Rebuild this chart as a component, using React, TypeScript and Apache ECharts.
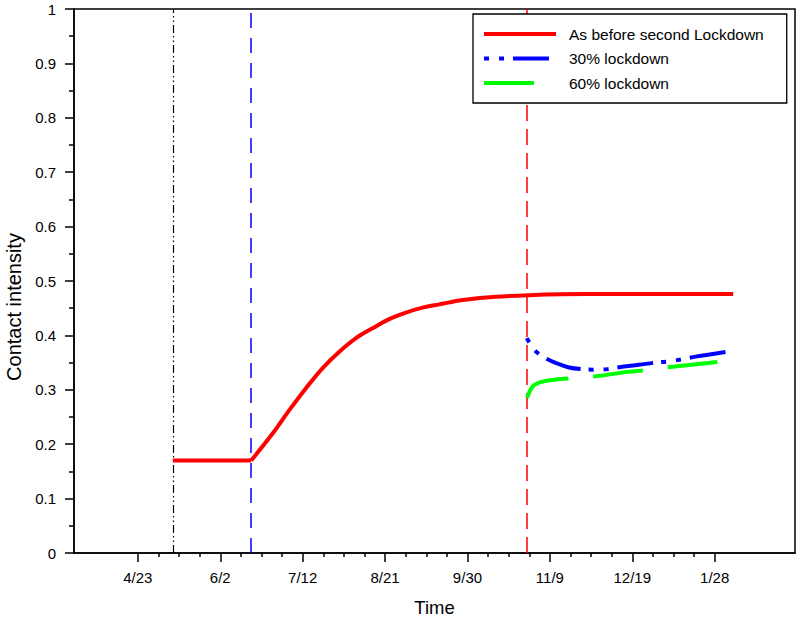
import React, { useEffect, useRef } from "react";
import * as echarts from "echarts";

// x values are days counted so that 4/23 = 40 (day 0 = 3/14)
const xMin = 9;
const xMax = 359;
const majorTickValues = [40, 80, 120, 160, 200, 240, 280, 320];
const majorTickLabels = ["4/23", "6/2", "7/12", "8/21", "9/30", "11/9", "12/19", "1/28"];
const minorTickValues = [
  50, 60, 70, 90, 100, 110, 130, 140, 150, 170, 180, 190, 210, 220, 230,
  250, 260, 270, 290, 300, 310,
];

const firstLockdownStart = 57;
const firstLockdownEnd = 95;
const secondLockdownStart = 229;

const seriesNames = ["As before second Lockdown", "30% lockdown", "60% lockdown"];

// red curve: flat part during first lockdown, then the rise
const asBeforeFlat: [number, number][] = [
  [57, 0.17], [95, 0.17],
];
const asBeforeRise: [number, number][] = [
  [95, 0.17], [105.5, 0.22], [113.6, 0.263], [121.6, 0.303],
  [129.7, 0.34], [137.8, 0.37], [145.9, 0.395], [153.9, 0.413], [162, 0.43],
  [170.1, 0.442], [178.2, 0.451], [186.3, 0.457], [197.6, 0.465], [213.8, 0.471],
  [229.9, 0.474], [246, 0.4755], [268.7, 0.476], [329, 0.476],
];
const lockdown30: [number, number][] = [
  [228.8, 0.395], [232.8, 0.372], [238, 0.358], [244.5, 0.347], [249.3, 0.341],
  [255, 0.338], [261, 0.337], [268, 0.338], [273.6, 0.3415], [283.3, 0.346],
  [291.3, 0.35], [297.3, 0.352], [304.2, 0.356], [310.7, 0.361], [328, 0.371],
];
const lockdown60: [number, number][] = [
  [229, 0.285], [231.6, 0.306], [236.4, 0.315], [241.2, 0.318], [250.1, 0.321],
  [262.3, 0.325], [278.4, 0.333], [286.5, 0.336], [298.6, 0.342], [323.3, 0.352],
  [329, 0.354],
];

const FONT = "'Liberation Sans', Arial, Helvetica, sans-serif";

export default function App() {
  const ref = useRef<HTMLDivElement>(null);
  useEffect(() => {
    if (!ref.current) return;
    const chart = echarts.init(ref.current, undefined, { renderer: "svg" });
    const labelMap: Record<number, string> = {};
    majorTickValues.forEach((v, i) => (labelMap[v] = majorTickLabels[i]));
    const redStyle = { color: "#ff0000", width: 4, type: "solid", cap: "butt" };
    chart.setOption({
      animation: false,
      backgroundColor: "#fff",
      textStyle: { fontFamily: FONT },
      grid: {
        left: 74,
        right: 5,
        top: 9,
        bottom: 70,
        containLabel: false,
        outerBoundsMode: "none",
        show: true,
        borderColor: "#000",
        borderWidth: 1.5,
        backgroundColor: "transparent",
      },
      legend: {
        data: seriesNames,
        orient: "vertical",
        left: 473,
        top: 14,
        itemWidth: 72,
        itemHeight: 16,
        itemGap: 8.5,
        padding: [12, 23, 12, 9],
        backgroundColor: "#fff",
        borderColor: "#000",
        borderWidth: 1.3,
        borderRadius: 0,
        selectedMode: false,
        lineStyle: { width: 4 },
        itemStyle: { opacity: 0, borderWidth: 0 },
        textStyle: {
          fontSize: 15.5,
          color: "#000",
          fontFamily: FONT,
          padding: [0, 0, 0, 8],
        },
      },
      xAxis: [
        {
          type: "value",
          min: xMin,
          max: xMax,
          position: "bottom",
          name: "Time",
          nameLocation: "middle",
          nameGap: 45,
          nameTextStyle: { fontSize: 18.5, color: "#000", fontFamily: FONT },
          axisLine: { show: true, onZero: false, lineStyle: { color: "#000", width: 1.5 } },
          axisTick: {
            show: true,
            inside: false,
            length: 9,
            customValues: majorTickValues,
            lineStyle: { color: "#000", width: 1.5 },
          },
          axisLabel: {
            show: true,
            customValues: majorTickValues,
            formatter: (v: number) => labelMap[Math.round(v)] ?? "",
            fontSize: 15,
            color: "#000",
            fontFamily: FONT,
            margin: 17,
          },
          splitLine: { show: false },
        },
        {
          type: "value",
          min: xMin,
          max: xMax,
          position: "bottom",
          axisLine: { show: false, onZero: false },
          axisTick: {
            show: true,
            inside: false,
            length: 4,
            customValues: minorTickValues,
            lineStyle: { color: "#000", width: 1.5 },
          },
          axisLabel: { show: false },
          splitLine: { show: false },
        },
      ],
      yAxis: {
        type: "value",
        min: 0,
        max: 1,
        interval: 0.1,
        name: "Contact intensity",
        nameLocation: "middle",
        nameGap: 43,
        nameTextStyle: {
          fontSize: 20,
          color: "#000",
          fontFamily: FONT,
          padding: [0, 52, 0, 0],
        },
        axisLine: { show: true, onZero: false, lineStyle: { color: "#000", width: 1.5 } },
        axisTick: { show: true, inside: false, length: 9, lineStyle: { color: "#000", width: 1.5 } },
        minorTick: { show: true, splitNumber: 2, length: 5, lineStyle: { color: "#000", width: 1.5 } },
        axisLabel: { fontSize: 15, color: "#000", fontFamily: FONT, margin: 18 },
        splitLine: { show: false },
        minorSplitLine: { show: false },
      },
      series: [
        {
          name: seriesNames[0],
          type: "line",
          data: asBeforeRise,
          symbol: "none",
          showSymbol: false,
          smooth: 0.35,
          z: 3,
          lineStyle: redStyle,
          itemStyle: { color: "#ff0000" },
          markLine: {
            silent: true,
            symbol: ["none", "none"],
            label: { show: false },
            emphasis: { disabled: true },
            z: 1,
            data: [
              { xAxis: firstLockdownStart, lineStyle: { color: "#000", width: 1.2, type: [8, 3, 1.5, 3, 1.5, 3] } },
              { xAxis: firstLockdownEnd, lineStyle: { color: "#0000ff", width: 1.5, type: [15, 10] } },
              { xAxis: secondLockdownStart, lineStyle: { color: "#ff0000", width: 1.5, type: [16, 8] } },
            ],
          },
        },
        {
          name: seriesNames[0],
          type: "line",
          data: asBeforeFlat,
          symbol: "none",
          showSymbol: false,
          z: 3,
          lineStyle: redStyle,
          itemStyle: { color: "#ff0000" },
        },
        {
          name: seriesNames[1],
          type: "line",
          data: lockdown30,
          symbol: "none",
          showSymbol: false,
          smooth: 0.35,
          z: 4,
          lineStyle: { color: "#0000ff", width: 4, type: [5, 10, 5, 9, 36, 8], cap: "butt" },
          itemStyle: { color: "#0000ff" },
        },
        {
          name: seriesNames[2],
          type: "line",
          data: lockdown60,
          symbol: "none",
          showSymbol: false,
          smooth: 0.35,
          z: 4,
          lineStyle: { color: "#00ff00", width: 4, type: [50, 25], cap: "butt" },
          itemStyle: { color: "#00ff00" },
        },
      ],
    });
    return () => chart.dispose();
  }, []);
  return (
    <div
      ref={ref}
      style={{ position: "absolute", left: 0, top: 0, width: 800, height: 623 }}
    />
  );
}
